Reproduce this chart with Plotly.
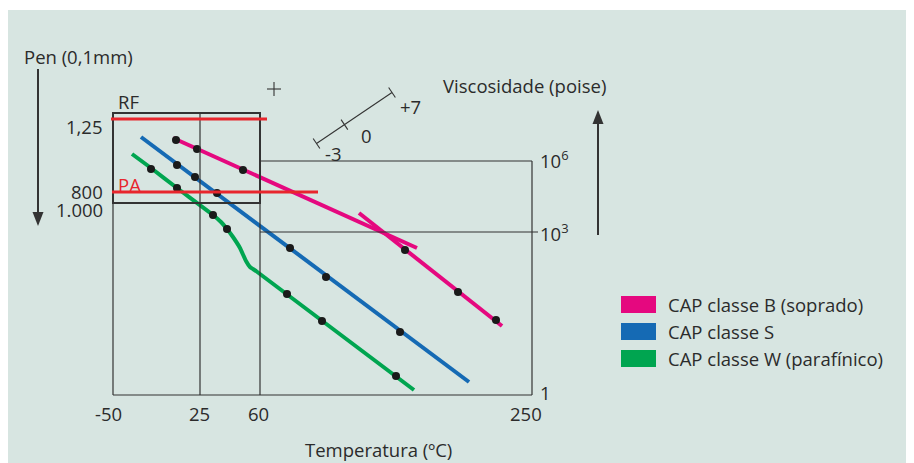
import plotly.graph_objects as go

# ---- data (chart units; y grows downward) ----
pink_seg1_x = [173, 417]
pink_seg1_y = [138, 248]
pink_seg2_x = [359, 502]
pink_seg2_y = [213, 326]
pink_dots_x = [176, 197, 243, 405, 458, 496]
pink_dots_y = [140, 149, 170, 250, 292, 320]

blue_x = [141, 469]
blue_y = [137, 382]
blue_dots_x = [177, 195, 217, 290, 326, 400]
blue_dots_y = [165, 177, 193, 248, 277, 332]

green_x = [132, 151, 177, 213, 221, 227, 233, 240, 246, 250, 253, 256, 414]
green_y = [154, 168, 188, 215, 222, 229, 237, 248, 261, 267, 269, 271, 390]
green_dots_x = [151, 177, 213, 227, 287, 322, 396]
green_dots_y = [169, 188, 215, 229, 294, 321, 376]

temp_ticks = ["-50", "25", "60", "250"]
temp_tick_pos = [108, 199, 258, 526]
pen_ticks = ["1,25", "800", "1.000"]
pen_tick_pos = [126, 191, 209]
visc_ticks = ["10<sup>6</sup>", "10<sup>3</sup>", "1"]
visc_tick_pos = [159, 232, 392]
scale_labels = ["-3", "0", "+7"]

legend_names = ["CAP classe B (soprado)", "CAP classe S", "CAP classe W (parafínico)"]
PINK, BLUE, GREEN, RED = "#e5087f", "#156ab4", "#00a550", "#e8262d"
legend_colors = [PINK, BLUE, GREEN]

TXT = "#2b2b2b"
FRAME = "#333333"
FONT = "Open Sans"
FS = 18.5

fig = go.Figure()

# background panel
fig.add_shape(type="rect", x0=7, y0=10, x1=920, y1=470, fillcolor="#d7e5e1",
              line=dict(width=0), layer="below")

# frame lines
def seg(x0, y0, x1, y1, w=1.2, c=FRAME):
    fig.add_shape(type="line", x0=x0, y0=y0, x1=x1, y1=y1, line=dict(color=c, width=w))

seg(113, 113, 113, 395)
seg(113, 395, 532, 395)
seg(532, 161, 532, 395)
seg(260, 161, 532, 161)
seg(260, 232, 538, 232)
seg(200, 113, 200, 395)
seg(260, 113, 260, 395)
fig.add_shape(type="rect", x0=113, y0=113, x1=260, y1=203, line=dict(color=FRAME, width=2))

# red lines
seg(111, 119, 267, 119, w=3, c=RED)
seg(112, 192, 318, 192, w=3, c=RED)

# pen arrow (down)
seg(38, 69, 38, 215, w=2, c=FRAME)
fig.add_shape(type="path", path="M 32.5 212 L 43.5 212 L 38 226 Z", fillcolor=FRAME, line=dict(width=0))
# viscosity arrow (up)
seg(598, 235, 598, 122, w=2, c=FRAME)
fig.add_shape(type="path", path="M 592.5 124 L 603.5 124 L 598 110 Z", fillcolor=FRAME, line=dict(width=0))

# small diagonal scale
sx0, sy0, sx1, sy1 = 316.5, 143.5, 392, 92.5
seg(sx0, sy0, sx1, sy1, w=1.1, c=FRAME)
dx, dy = sx1 - sx0, sy1 - sy0
L = (dx * dx + dy * dy) ** 0.5
px, py = -dy / L * 6, dx / L * 6
for t in (0.0, 0.37, 1.0):
    cx, cy = sx0 + dx * t, sy0 + dy * t
    seg(cx - px, cy - py, cx + px, cy + py, w=1.1, c=FRAME)
# plus sign
seg(267, 89, 281, 89, w=1.1, c=FRAME)
seg(274, 82, 274, 96, w=1.1, c=FRAME)

# series lines
fig.add_trace(go.Scatter(x=pink_seg1_x, y=pink_seg1_y, mode="lines", line=dict(color=PINK, width=4)))
fig.add_trace(go.Scatter(x=pink_seg2_x, y=pink_seg2_y, mode="lines", line=dict(color=PINK, width=4)))
fig.add_trace(go.Scatter(x=blue_x, y=blue_y, mode="lines", line=dict(color=BLUE, width=4)))
fig.add_trace(go.Scatter(x=green_x, y=green_y, mode="lines", line=dict(color=GREEN, width=4, shape="spline", smoothing=0.4)))
for xs, ys in ((pink_dots_x, pink_dots_y), (blue_dots_x, blue_dots_y), (green_dots_x, green_dots_y)):
    fig.add_trace(go.Scatter(x=xs, y=ys, mode="markers", marker=dict(color="#1a1a1a", size=8)))

# text
def txt(x, y, s, anchor="left", size=FS, color=TXT):
    fig.add_annotation(x=x, y=y, text=s, showarrow=False, xanchor=anchor, yanchor="middle",
                       font=dict(family=FONT, size=size, color=color))

txt(22, 56, "Pen (0,1mm)")
txt(116, 101, "RF")
txt(116, 184, "PA", color=RED)
for s, yv in zip(pen_ticks, pen_tick_pos):
    txt(105, yv, s, anchor="right")
for s, xv in zip(temp_ticks, temp_tick_pos):
    txt(xv, 413, s, anchor="center")
for s, yv in zip(visc_ticks, visc_tick_pos):
    txt(538, yv, s, anchor="left")
txt(378, 449, "Temperatura (ºC)", anchor="center")
txt(441, 85, "Viscosidade (poise)")
for s, (xv, yv) in zip(scale_labels, [(333, 153), (366, 135), (410, 106)]):
    txt(xv, yv, s, anchor="center")

# legend
for i, (name, col) in enumerate(zip(legend_names, legend_colors)):
    yc = 304.5 + i * 27
    fig.add_shape(type="rect", x0=621, x1=656, y0=yc - 8.5, y1=yc + 8.5, fillcolor=col, line=dict(width=0))
    txt(666, yc, name)

# the page body has an 8px margin: the figure starts at page pixel (8, 8)
fig.update_layout(
    width=906, height=455, margin=dict(l=0, r=0, t=0, b=0),
    paper_bgcolor="white", plot_bgcolor="rgba(0,0,0,0)", showlegend=False,
    xaxis=dict(range=[8, 914], visible=False, fixedrange=True),
    yaxis=dict(range=[463, 8], visible=False, fixedrange=True),
)
fig.write_html("out.html", config={"displayModeBar": False})
